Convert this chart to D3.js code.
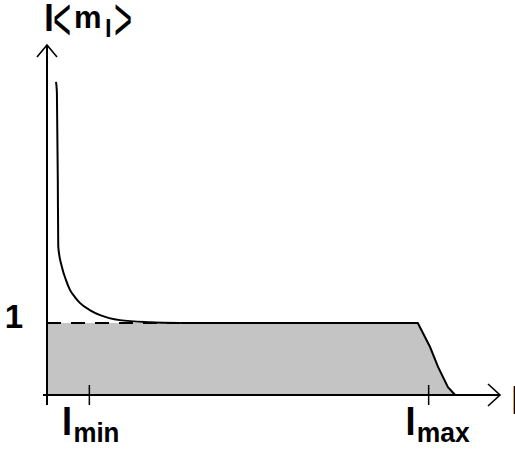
<!DOCTYPE html>
<html>
<head>
<meta charset="utf-8">
<script src="https://cdn.jsdelivr.net/npm/d3@7"></script>
<style>
  html, body { margin: 0; padding: 0; background: #fff; }
  svg { display: block; }
</style>
</head>
<body>
<script>
// ---- data ----
const curveL = [0.20, 0.22, 0.24, 0.25, 0.33, 0.42, 0.51, 0.62, 0.73, 0.95, 1.18, 1.62, 2.29, 2.96];
const curveV = [4.35, 4.20, 3.00, 2.06, 1.78, 1.60, 1.46, 1.36, 1.28, 1.18, 1.11, 1.04, 1.01, 1.00];
const shadeL = [0, 2.96, 8.24, 8.51, 8.69, 8.91, 9.07];
const shadeV = [1, 1, 1, 0.67, 0.39, 0.11, 0];
const tickL = [0.93, 8.47];
const tickNames = ["min", "max"];
const yTicks = [1];

const W = 515, H = 450;
const svg = d3.select("body").append("svg").attr("width", W).attr("height", H);
svg.append("rect").attr("width", W).attr("height", H).attr("fill", "#fff");

const x = d3.scaleLinear().domain([0, 10]).range([47, 497]);
const y = d3.scaleLinear().domain([0, 1]).range([395, 323]);

const shade = shadeL.map((l, i) => ({l, v: shadeV[i]}));
const curve = curveL.map((l, i) => ({l, v: curveV[i]}));

// shaded area
svg.append("path")
  .datum(shade)
  .attr("fill", "#c4c4c4")
  .attr("d", d3.area().x(d => x(d.l)).y0(y(0)).y1(d => y(d.v)));

// dashed part of plateau
svg.append("path")
  .datum(shade.slice(0, 2))
  .attr("fill", "none").attr("stroke", "#000").attr("stroke-width", 2)
  .attr("stroke-dasharray", "14,10")
  .attr("d", d3.line().x(d => x(d.l)).y(d => y(d.v)));

// solid plateau and fall
svg.append("path")
  .datum(shade.slice(1))
  .attr("fill", "none").attr("stroke", "#000").attr("stroke-width", 2)
  .attr("d", d3.line().x(d => x(d.l)).y(d => y(d.v)));

// decaying curve
svg.append("path")
  .datum(curve)
  .attr("fill", "none").attr("stroke", "#000").attr("stroke-width", 2)
  .attr("d", d3.line().x(d => x(d.l)).y(d => y(d.v)).curve(d3.curveMonotoneX));

// axes lines
const axisG = svg.append("g").attr("stroke", "#000").attr("stroke-width", 2).attr("fill", "none");
axisG.append("line").attr("x1", x(0)).attr("x2", x(0)).attr("y1", 405).attr("y2", 45);
axisG.append("line").attr("x1", 43).attr("x2", 500).attr("y1", y(0)).attr("y2", y(0));
axisG.append("path").attr("d", `M${x(0) - 10},57L${x(0)},45L${x(0) + 10},57`).attr("stroke-width", 1.6);
axisG.append("path").attr("d", `M488,${y(0) - 11}L500,${y(0)}L488,${y(0) + 11}`).attr("stroke-width", 1.6);

// x ticks through d3 axis
const xa = svg.append("g").attr("transform", `translate(0,${y(0) - 10})`)
  .call(d3.axisBottom(x).tickValues(tickL).tickSize(20).tickFormat(""));
xa.select(".domain").remove();
xa.selectAll("line").attr("stroke", "#000").attr("stroke-width", 1.5);

const ff = "Liberation Sans, Arial, sans-serif";

// x tick labels l_min, l_max
tickL.forEach((l, i) => {
  const t = svg.append("text")
    .attr("x", x(l) - 27 + (i === 1 ? 4 : 0)).attr("y", 435)
    .attr("font-family", ff)
    .attr("font-weight", "bold").attr("fill", "#000");
  t.append("tspan").attr("font-size", 38).text("l");
  t.append("tspan").attr("font-size", 28).attr("dy", 7).attr("dx", 1)
    .attr("textLength", i === 0 ? 46 : 53).attr("lengthAdjust", "spacingAndGlyphs")
    .text(tickNames[i]);
});

// y tick label "1"
yTicks.forEach(v => {
  svg.append("text")
    .attr("x", 23).attr("y", y(v) + 5).attr("text-anchor", "end")
    .attr("font-family", ff)
    .attr("font-weight", "bold").attr("font-size", 33).attr("fill", "#000")
    .text(String(v));
});

// x axis label (cut at edge)
svg.append("text").attr("x", 511).attr("y", 414)
  .attr("font-family", ff)
  .attr("font-weight", "bold").attr("font-size", 38).attr("fill", "#000").text("l");

// y axis label l<m_l>
const lab = svg.append("g").attr("fill", "#000");
lab.append("text").attr("x", 44).attr("y", 31).attr("font-family", ff)
  .attr("font-weight", "bold").attr("font-size", 36).text("l");
lab.append("text").attr("transform", "translate(53,40) scale(1,2)").attr("font-family", ff)
  .attr("font-size", 31).text("<");
lab.append("text").attr("x", 74).attr("y", 28).attr("font-family", ff)
  .attr("font-weight", "bold").attr("font-size", 31).text("m");
lab.append("text").attr("x", 105).attr("y", 37).attr("font-family", ff)
  .attr("font-weight", "bold").attr("font-size", 24).text("l");
lab.append("text").attr("transform", "translate(114,40) scale(1,2)").attr("font-family", ff)
  .attr("font-size", 31).text(">");
</script>
</body>
</html>
